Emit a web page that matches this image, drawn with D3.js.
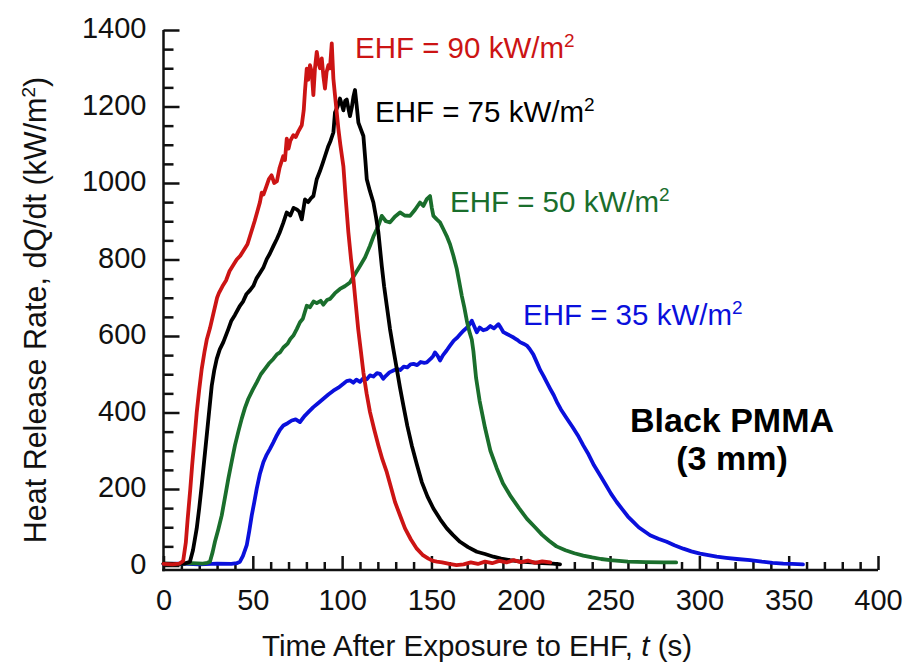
<!DOCTYPE html>
<html>
<head>
<meta charset="utf-8">
<script src="https://cdn.jsdelivr.net/npm/d3@7"></script>
<style>
  body { margin: 0; background: #fff; }
  text { font-family: "Liberation Sans", Arial, Helvetica, sans-serif; }
  .axis text { font-size: 29px; fill: #111; }
  .axis line { stroke: #111; stroke-width: 2.5px; }
  .axis path { display: none; }
</style>
</head>
<body>
<div id="chart"></div>
<script>
// heat release rate curves, [time (s), HRR (kW/m2)]
const ehf90 = [[0,4],[5,3],[9,5],[11,12],[12.5,60],[13.5,120],[15,200],[16,260],[17.5,340],[18.6,400],[20,460],[21.4,514],[23,560],[24.2,590],[26,620],[28,660],[30,700],[31,712],[33,730],[35,745],[37,770],[39,785],[41,800],[43,810],[45,825],[47,840],[49,870],[51,900],[52.5,925],[54,950],[55,975],[56,970],[57.5,990],[59,1010],[60.5,1020],[62,1000],[63.5,1005],[65,1040],[67,1070],[68,1060],[69,1116],[70,1090],[71,1110],[72.7,1125],[74,1120],[75.5,1135],[77.4,1151],[78.5,1190],[79.2,1240],[80.2,1299],[81,1270],[82,1308],[83,1290],[83.9,1230],[84.8,1300],[85.8,1343],[86.7,1315],[87.6,1300],[88.6,1326],[89.5,1280],[90.4,1247],[91.3,1290],[92.3,1308],[93.2,1300],[94.2,1365],[95.1,1273],[96,1230],[97.9,1142],[99,1100],[100.7,1044],[102,960],[103.5,871],[105,800],[106.3,749],[107.5,690],[109,618],[110.5,560],[111.9,505],[113.7,450],[115.6,401],[118,355],[120.3,314],[122.5,278],[125,244],[127.3,205],[129.6,166],[132.5,130],[135.2,97],[138.5,68],[141.8,44],[145,28],[148.3,18],[151,12],[153,10],[156,8],[160,4],[164,1],[168,3],[172,8],[176,4],[180,10],[184,6],[188,12],[192,8],[196,14],[200,9],[204,13],[208,7],[212,11],[216.5,8]];

const ehf75 = [[0,5],[6,4],[12,5],[14.8,10],[16.5,40],[18.6,97],[20,150],[21.4,210],[22.8,275],[24.2,340],[25.6,405],[27,470],[28.4,510],[29.8,540],[31.5,565],[33.5,584],[36.3,618],[38,640],[40,655],[42.8,679],[44.5,690],[46.5,710],[48.5,720],[50.3,731],[52,750],[54,765],[56,780],[57.8,801],[59.5,815],[61.5,835],[63.4,853],[65,870],[67,895],[69,923],[71,915],[72.8,935],[74.6,931],[76,925],[77.4,905],[79.2,957],[81,950],[82.5,960],[83.9,966],[85.8,1010],[87.5,1030],[89,1050],[90.4,1070],[92.3,1097],[93.5,1110],[95.1,1132],[96,1184],[97.5,1200],[98.8,1221],[99.8,1205],[100.7,1190],[101.7,1215],[102.6,1218],[103.5,1195],[104.4,1175],[105.5,1200],[106.3,1225],[107.2,1243],[108.2,1200],[109.1,1158],[110.5,1140],[111.9,1123],[113,1060],[113.8,1010],[115.5,980],[117.5,949],[119,910],[120.3,871],[122.2,783],[123.5,730],[125,679],[126.8,618],[128.7,565],[130.6,514],[132.4,465],[134.3,418],[136.5,365],[139,314],[141.8,265],[144.6,218],[147.8,180],[151.1,149],[155,120],[158.6,97],[162,80],[166,62],[170.5,48],[175.4,36],[180,30],[184.7,23],[189,18],[194,14],[200,10],[206,8],[212,6],[218,5],[222,3]];

const ehf50 = [[0,5],[8,4],[16,6],[22,5],[24.5,7],[26,10],[27.5,35],[28.8,62],[30.7,95],[32.6,131],[34.5,180],[36.3,227],[38.2,272],[40,314],[42,352],[43.8,384],[45.6,412],[47.5,436],[50,460],[52.2,479],[54.5,500],[56.8,514],[59,528],[61.5,540],[63.5,552],[65.2,557],[67.1,570],[69.5,580],[71,592],[72.7,601],[74.6,618],[76.4,636],[78,645],[80.2,679],[82,675],[84,690],[85.8,686],[88,692],[89.5,682],[91.5,694],[93.2,697],[96,712],[98.8,723],[101.5,730],[104.4,740],[107,760],[110,783],[112.8,805],[115.6,836],[117.5,860],[119.4,879],[120.8,895],[122.2,914],[124.5,900],[126.8,897],[129.5,912],[132.4,923],[135,915],[138,914],[140.8,930],[143.6,949],[145.5,940],[147.4,958],[149.2,966],[150.2,935],[151.1,914],[153,905],[154.8,897],[156.7,879],[158.5,862],[160.4,840],[162.3,810],[164.2,775],[165.6,740],[167,705],[168.4,675],[169.8,640],[171.2,612],[172.6,590],[173.5,560],[175,490],[177,430],[180,360],[183,300],[186.5,255],[190,215],[194.5,180],[199,150],[203.5,122],[208,100],[212,80],[216,64],[220,50],[225,40],[230,32],[235,26],[240,21],[245,17],[250,14],[255,12],[260,10],[270,9],[280,8],[287,8]];

const ehf35 = [[0,4],[10,5],[20,3],[30,5],[38,4],[41,6],[42.8,10],[44.5,25],[46.6,53],[48,90],[49.4,131],[50.8,165],[52.2,201],[54,240],[55.9,270],[57.8,290],[59.6,305],[61.5,322],[63.4,340],[65.2,355],[67.1,366],[69.5,372],[71.8,379],[74,382],[76.4,375],[78,385],[79.2,392],[81.5,403],[83.9,414],[86.7,425],[89.5,436],[92.3,447],[95.1,457],[97.9,465],[100.7,475],[102.5,482],[104.4,484],[106.3,478],[108,486],[110,480],[112,490],[113.8,487],[115.6,497],[117.5,494],[119.5,503],[121.2,501],[123,488],[124.5,496],[126.5,505],[128.7,510],[130.6,514],[132.5,511],[134.5,520],[136.5,518],[138.3,526],[140,527],[142,524],[144,532],[146,530],[147.4,531],[149.5,540],[151,548],[152,557],[153.5,548],[154.8,536],[156.5,550],[158.5,562],[160.4,575],[162.5,588],[164.5,596],[166.2,605],[167.9,614],[169.5,620],[171,628],[172.6,640],[174,625],[175.4,610],[177,622],[179,615],[181,618],[183,626],[185,620],[187.5,631],[188.8,622],[190.3,610],[192,606],[194,601],[196,596],[198,590],[199.6,584],[201.5,580],[203.4,575],[205,566],[207,552],[209,531],[211,510],[212.8,495],[214.6,479],[216.5,462],[218.5,445],[220.5,425],[222.5,408],[225.7,385],[229,362],[232,340],[235,314],[238,290],[241,262],[244.4,236],[247.5,212],[250.5,188],[253.7,166],[257,146],[260,128],[263,114],[266,100],[269,90],[272.4,79],[277,70],[281.7,62],[286,53],[291,44],[295.5,37],[300.4,31],[305,27],[309.7,23],[315,20],[321,17],[328.4,14],[335,10],[341,7],[347,5],[352,4],[358,3]];

const seriesNames = ["90", "75", "50", "35"];
const seriesColors = ["#cc1414", "#000000", "#1a6e2c", "#0a10dc"];
const xTicks = [0, 50, 100, 150, 200, 250, 300, 350, 400];
const yTicks = [0, 200, 400, 600, 800, 1000, 1200, 1400];

const width = 904, height = 664;

const svg = d3.select("#chart")
  .append("svg")
    .attr("width", width)
    .attr("height", height);

const x = d3.scaleLinear().domain([0, 400]).range([163.5, 878]);
const y = d3.scaleLinear().domain([0, 1400]).range([565.5, 30]);
const axisY = y(0) + 4.5;

// minor ticks first, then majors
svg.append("g")
  .attr("class", "axis")
  .attr("transform", `translate(0, ${axisY})`)
  .call(d3.axisBottom(x)
    .tickValues(d3.range(0, 401, 10).filter(d => d % 50 != 0))
    .tickSizeInner(-8)
    .tickSizeOuter(0)
    .tickFormat(""));

svg.append("g")
  .attr("class", "axis")
  .attr("transform", `translate(0, ${axisY})`)
  .call(d3.axisBottom(x)
    .tickValues(xTicks)
    .tickSizeInner(-14)
    .tickSizeOuter(0)
    .tickPadding(19)
    .tickFormat(d3.format("d")));

svg.append("g")
  .attr("class", "axis")
  .attr("transform", `translate(${x(0)}, 0)`)
  .call(d3.axisLeft(y)
    .tickValues(d3.range(0, 1401, 50).filter(d => d % 200 != 0))
    .tickSizeInner(-10)
    .tickSizeOuter(0)
    .tickFormat(""));

svg.append("g")
  .attr("class", "axis y-major")
  .attr("transform", `translate(${x(0)}, 0)`)
  .call(d3.axisLeft(y)
    .tickValues(yTicks)
    .tickSizeInner(-16)
    .tickSizeOuter(0)
    .tickPadding(17)
    .tickFormat(d3.format("d")))
  .selectAll("text")
    .attr("dy", "0.26em");

// axis lines
svg.append("line")
  .attr("x1", x(0)).attr("x2", x(0))
  .attr("y1", y(1400)).attr("y2", axisY + 1.2)
  .attr("stroke", "#111").attr("stroke-width", 2.5);
svg.append("line")
  .attr("x1", x(0) - 1.2).attr("x2", x(400))
  .attr("y1", axisY).attr("y2", axisY)
  .attr("stroke", "#111").attr("stroke-width", 2.5);

// curves
const line = d3.line()
  .x(d => x(d[0]))
  .y(d => y(d[1]));

const allSeries = [ehf35, ehf50, ehf75, ehf90];
const order = [3, 2, 1, 0];
svg.selectAll(".curve")
  .data(allSeries)
  .join("path")
    .attr("class", "curve")
    .attr("d", line)
    .attr("fill", "none")
    .attr("stroke", (d, i) => seriesColors[order[i]])
    .attr("stroke-width", 3.8)
    .attr("stroke-linejoin", "round")
    .attr("stroke-linecap", "round");

// curve labels
const labelPos = [[355, 58], [375, 122], [450, 212], [523, 325]];
seriesNames.forEach((n, i) => {
  const t = svg.append("text")
    .attr("x", labelPos[i][0])
    .attr("y", labelPos[i][1])
    .attr("fill", seriesColors[i])
    .style("font-size", "29.5px");
  t.append("tspan").text(`EHF = ${n} kW/m`);
  t.append("tspan").attr("dy", -11).style("font-size", "19px").text("2");
});

svg.append("text")
  .attr("x", 732).attr("y", 432)
  .attr("text-anchor", "middle")
  .style("font-size", "34px")
  .style("font-weight", "bold")
  .text("Black PMMA");
svg.append("text")
  .attr("x", 732).attr("y", 470)
  .attr("text-anchor", "middle")
  .style("font-size", "34px")
  .style("font-weight", "bold")
  .text("(3 mm)");

// axis titles
const xt = svg.append("text")
  .attr("x", 477).attr("y", 656)
  .attr("text-anchor", "middle")
  .style("font-size", "29.5px")
  .attr("fill", "#111");
xt.append("tspan").text("Time After Exposure to EHF, ");
xt.append("tspan").style("font-style", "italic").text("t");
xt.append("tspan").text(" (s)");

const yt = svg.append("text")
  .attr("transform", "translate(46, 310) rotate(-90)")
  .attr("text-anchor", "middle")
  .style("font-size", "30.5px")
  .attr("fill", "#111");
yt.append("tspan").text("Heat Release Rate, dQ/dt (kW/m");
yt.append("tspan").attr("dy", -11).style("font-size", "19px").text("2");
yt.append("tspan").attr("dy", 11).text(")");
</script>
</body>
</html>
